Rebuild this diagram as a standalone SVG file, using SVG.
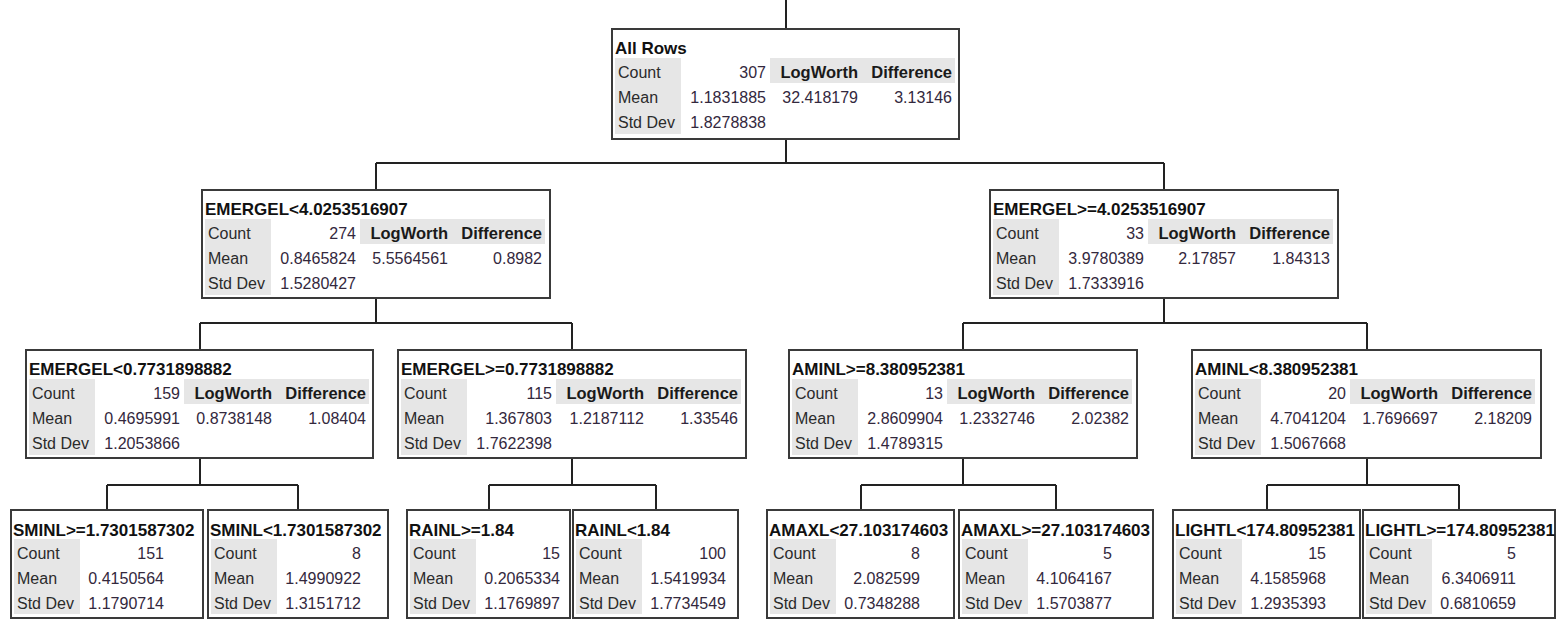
<svg xmlns="http://www.w3.org/2000/svg" width="1559" height="620" viewBox="0 0 1559 620">
<style>
.bg{fill:#fff}
.box{fill:#fff;stroke:#3a3a3a;stroke-width:2}
.g{fill:#e6e6e6}
.t{font-family:"Liberation Sans",Arial,sans-serif;font-weight:bold;font-size:17px;fill:#111}
.h{font-family:"Liberation Sans",Arial,sans-serif;font-weight:bold;font-size:16.5px;fill:#1a1a1a}
.l{font-family:"Liberation Sans",Arial,sans-serif;font-size:16px;fill:#2b2b2b}
.v{font-family:"Liberation Sans",Arial,sans-serif;font-size:16px;fill:#33283d}
.e{text-anchor:end}
.c{fill:none;stroke:#222;stroke-width:2}
</style>
<rect class="bg" x="0" y="0" width="1559" height="620"/>
<g id="connectors">
<path class="c" d="M786 0V29"/>
<path class="c" d="M786 139V163M376 163H1164M376 163V190M1164 163V190"/>
<path class="c" d="M376 298V323M200 323H572M200 323V350M572 323V350"/>
<path class="c" d="M1164 298V323M963 323H1367M963 323V350M1367 323V350"/>
<path class="c" d="M200 458V485M107 485H298M107 485V510M298 485V510"/>
<path class="c" d="M572 458V485M489 485H656M489 485V510M656 485V510"/>
<path class="c" d="M963 458V485M861 485H1056M861 485V510M1056 485V510"/>
<path class="c" d="M1367 458V485M1267 485H1459M1267 485V510M1459 485V510"/>
</g>
<g id="node-root" transform="translate(612,29)">
<rect class="box" x="0" y="0" width="347" height="110"/>
<rect class="g" x="3" y="29" width="66" height="76"/><rect class="g" x="158" y="29" width="185" height="25"/>
<text class="t" x="3" y="25">All Rows</text>
<text class="l" x="6" y="49">Count</text><text class="v e" x="154" y="49">307</text><text class="h e" x="246" y="49">LogWorth</text><text class="h e" x="340" y="49">Difference</text>
<text class="l" x="6" y="74">Mean</text><text class="v e" x="154" y="74">1.1831885</text><text class="v e" x="246" y="74">32.418179</text><text class="v e" x="340" y="74">3.13146</text>
<text class="l" x="6" y="99">Std Dev</text><text class="v e" x="154" y="99">1.8278838</text>
</g>
<g id="node-emergel-lt-4" transform="translate(202,190)">
<rect class="box" x="0" y="0" width="348" height="108"/>
<rect class="g" x="3" y="29" width="66" height="76"/><rect class="g" x="158" y="29" width="185" height="25"/>
<text class="t" x="3" y="25">EMERGEL&lt;4.0253516907</text>
<text class="l" x="6" y="49">Count</text><text class="v e" x="154" y="49">274</text><text class="h e" x="246" y="49">LogWorth</text><text class="h e" x="340" y="49">Difference</text>
<text class="l" x="6" y="74">Mean</text><text class="v e" x="154" y="74">0.8465824</text><text class="v e" x="246" y="74">5.5564561</text><text class="v e" x="340" y="74">0.8982</text>
<text class="l" x="6" y="99">Std Dev</text><text class="v e" x="154" y="99">1.5280427</text>
</g>
<g id="node-emergel-ge-4" transform="translate(990,190)">
<rect class="box" x="0" y="0" width="348" height="108"/>
<rect class="g" x="3" y="29" width="66" height="76"/><rect class="g" x="158" y="29" width="185" height="25"/>
<text class="t" x="3" y="25">EMERGEL&gt;=4.0253516907</text>
<text class="l" x="6" y="49">Count</text><text class="v e" x="154" y="49">33</text><text class="h e" x="246" y="49">LogWorth</text><text class="h e" x="340" y="49">Difference</text>
<text class="l" x="6" y="74">Mean</text><text class="v e" x="154" y="74">3.9780389</text><text class="v e" x="246" y="74">2.17857</text><text class="v e" x="340" y="74">1.84313</text>
<text class="l" x="6" y="99">Std Dev</text><text class="v e" x="154" y="99">1.7333916</text>
</g>
<g id="node-emergel-lt-077" transform="translate(26,350)">
<rect class="box" x="0" y="0" width="347" height="108"/>
<rect class="g" x="3" y="29" width="66" height="76"/><rect class="g" x="158" y="29" width="185" height="25"/>
<text class="t" x="3" y="25">EMERGEL&lt;0.7731898882</text>
<text class="l" x="6" y="49">Count</text><text class="v e" x="154" y="49">159</text><text class="h e" x="246" y="49">LogWorth</text><text class="h e" x="340" y="49">Difference</text>
<text class="l" x="6" y="74">Mean</text><text class="v e" x="154" y="74">0.4695991</text><text class="v e" x="246" y="74">0.8738148</text><text class="v e" x="340" y="74">1.08404</text>
<text class="l" x="6" y="99">Std Dev</text><text class="v e" x="154" y="99">1.2053866</text>
</g>
<g id="node-emergel-ge-077" transform="translate(398,350)">
<rect class="box" x="0" y="0" width="348" height="108"/>
<rect class="g" x="3" y="29" width="66" height="76"/><rect class="g" x="158" y="29" width="185" height="25"/>
<text class="t" x="3" y="25">EMERGEL&gt;=0.7731898882</text>
<text class="l" x="6" y="49">Count</text><text class="v e" x="154" y="49">115</text><text class="h e" x="246" y="49">LogWorth</text><text class="h e" x="340" y="49">Difference</text>
<text class="l" x="6" y="74">Mean</text><text class="v e" x="154" y="74">1.367803</text><text class="v e" x="246" y="74">1.2187112</text><text class="v e" x="340" y="74">1.33546</text>
<text class="l" x="6" y="99">Std Dev</text><text class="v e" x="154" y="99">1.7622398</text>
</g>
<g id="node-aminl-ge" transform="translate(789,350)">
<rect class="box" x="0" y="0" width="348" height="108"/>
<rect class="g" x="3" y="29" width="66" height="76"/><rect class="g" x="158" y="29" width="185" height="25"/>
<text class="t" x="3" y="25">AMINL&gt;=8.380952381</text>
<text class="l" x="6" y="49">Count</text><text class="v e" x="154" y="49">13</text><text class="h e" x="246" y="49">LogWorth</text><text class="h e" x="340" y="49">Difference</text>
<text class="l" x="6" y="74">Mean</text><text class="v e" x="154" y="74">2.8609904</text><text class="v e" x="246" y="74">1.2332746</text><text class="v e" x="340" y="74">2.02382</text>
<text class="l" x="6" y="99">Std Dev</text><text class="v e" x="154" y="99">1.4789315</text>
</g>
<g id="node-aminl-lt" transform="translate(1192,350)">
<rect class="box" x="0" y="0" width="349" height="108"/>
<rect class="g" x="3" y="29" width="66" height="76"/><rect class="g" x="158" y="29" width="185" height="25"/>
<text class="t" x="3" y="25">AMINL&lt;8.380952381</text>
<text class="l" x="6" y="49">Count</text><text class="v e" x="154" y="49">20</text><text class="h e" x="246" y="49">LogWorth</text><text class="h e" x="340" y="49">Difference</text>
<text class="l" x="6" y="74">Mean</text><text class="v e" x="154" y="74">4.7041204</text><text class="v e" x="246" y="74">1.7696697</text><text class="v e" x="340" y="74">2.18209</text>
<text class="l" x="6" y="99">Std Dev</text><text class="v e" x="154" y="99">1.5067668</text>
</g>
<g id="leaf-sminl-ge" transform="translate(11,510)">
<rect class="box" x="0" y="0" width="192" height="108"/>
<rect class="g" x="3" y="29" width="66" height="75"/>
<text class="t" x="2" y="26">SMINL&gt;=1.7301587302</text>
<text class="l" x="6" y="49">Count</text><text class="v e" x="153" y="49">151</text>
<text class="l" x="6" y="74">Mean</text><text class="v e" x="153" y="74">0.4150564</text>
<text class="l" x="6" y="99">Std Dev</text><text class="v e" x="153" y="99">1.1790714</text>
</g>
<g id="leaf-sminl-lt" transform="translate(208,510)">
<rect class="box" x="0" y="0" width="180" height="108"/>
<rect class="g" x="3" y="29" width="66" height="75"/>
<text class="t" x="2" y="26">SMINL&lt;1.7301587302</text>
<text class="l" x="6" y="49">Count</text><text class="v e" x="153" y="49">8</text>
<text class="l" x="6" y="74">Mean</text><text class="v e" x="153" y="74">1.4990922</text>
<text class="l" x="6" y="99">Std Dev</text><text class="v e" x="153" y="99">1.3151712</text>
</g>
<g id="leaf-rainl-ge" transform="translate(407,510)">
<rect class="box" x="0" y="0" width="163" height="108"/>
<rect class="g" x="3" y="29" width="66" height="75"/>
<text class="t" x="2" y="26">RAINL&gt;=1.84</text>
<text class="l" x="6" y="49">Count</text><text class="v e" x="153" y="49">15</text>
<text class="l" x="6" y="74">Mean</text><text class="v e" x="153" y="74">0.2065334</text>
<text class="l" x="6" y="99">Std Dev</text><text class="v e" x="153" y="99">1.1769897</text>
</g>
<g id="leaf-rainl-lt" transform="translate(573,510)">
<rect class="box" x="0" y="0" width="165" height="108"/>
<rect class="g" x="3" y="29" width="66" height="75"/>
<text class="t" x="2" y="26">RAINL&lt;1.84</text>
<text class="l" x="6" y="49">Count</text><text class="v e" x="153" y="49">100</text>
<text class="l" x="6" y="74">Mean</text><text class="v e" x="153" y="74">1.5419934</text>
<text class="l" x="6" y="99">Std Dev</text><text class="v e" x="153" y="99">1.7734549</text>
</g>
<g id="leaf-amaxl-lt" transform="translate(767,510)">
<rect class="box" x="0" y="0" width="187" height="108"/>
<rect class="g" x="3" y="29" width="66" height="75"/>
<text class="t" x="2" y="26">AMAXL&lt;27.103174603</text>
<text class="l" x="6" y="49">Count</text><text class="v e" x="153" y="49">8</text>
<text class="l" x="6" y="74">Mean</text><text class="v e" x="153" y="74">2.082599</text>
<text class="l" x="6" y="99">Std Dev</text><text class="v e" x="153" y="99">0.7348288</text>
</g>
<g id="leaf-amaxl-ge" transform="translate(959,510)">
<rect class="box" x="0" y="0" width="194" height="108"/>
<rect class="g" x="3" y="29" width="66" height="75"/>
<text class="t" x="2" y="26">AMAXL&gt;=27.103174603</text>
<text class="l" x="6" y="49">Count</text><text class="v e" x="153" y="49">5</text>
<text class="l" x="6" y="74">Mean</text><text class="v e" x="153" y="74">4.1064167</text>
<text class="l" x="6" y="99">Std Dev</text><text class="v e" x="153" y="99">1.5703877</text>
</g>
<g id="leaf-lightl-lt" transform="translate(1173,510)">
<rect class="box" x="0" y="0" width="187" height="108"/>
<rect class="g" x="3" y="29" width="66" height="75"/>
<text class="t" x="2" y="26">LIGHTL&lt;174.80952381</text>
<text class="l" x="6" y="49">Count</text><text class="v e" x="153" y="49">15</text>
<text class="l" x="6" y="74">Mean</text><text class="v e" x="153" y="74">4.1585968</text>
<text class="l" x="6" y="99">Std Dev</text><text class="v e" x="153" y="99">1.2935393</text>
</g>
<g id="leaf-lightl-ge" transform="translate(1363,510)">
<rect class="box" x="0" y="0" width="192" height="108"/>
<rect class="g" x="3" y="29" width="66" height="75"/>
<text class="t" x="2" y="26">LIGHTL&gt;=174.80952381</text>
<text class="l" x="6" y="49">Count</text><text class="v e" x="153" y="49">5</text>
<text class="l" x="6" y="74">Mean</text><text class="v e" x="153" y="74">6.3406911</text>
<text class="l" x="6" y="99">Std Dev</text><text class="v e" x="153" y="99">0.6810659</text>
</g>
</svg>
